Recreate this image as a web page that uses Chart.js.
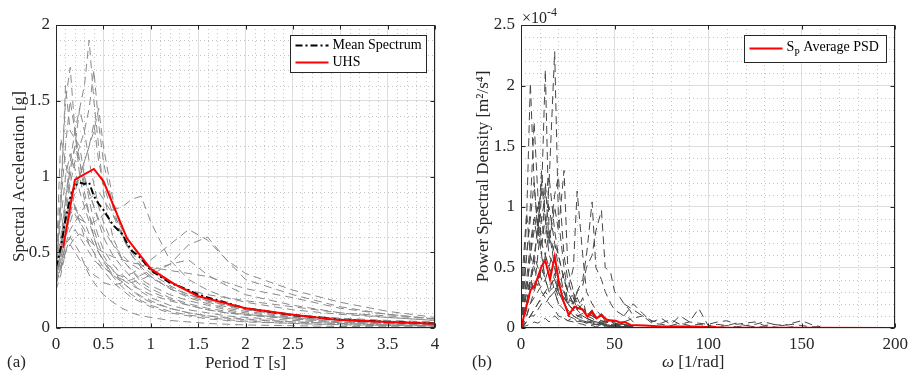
<!DOCTYPE html>
<html>
<head>
<meta charset="utf-8">
<script src="https://cdn.jsdelivr.net/npm/chart.js@4.4.0/dist/chart.umd.min.js"></script>
<style>
  body { margin: 0; background: #fff; }
  #wrap { position: relative; width: 914px; height: 378px; font-family: "Liberation Serif", "Times New Roman", serif; color: #262626; }
  .panel { position: absolute; top: 0; width: 457px; height: 378px; }
  .lbl { position: absolute; font-size: 17px; white-space: nowrap; line-height: 20px; }
  .lbl sup { font-size: 12px; vertical-align: 7px; line-height: 0; }
</style>
</head>
<body>
<div id="wrap">
  <div class="panel" style="left:0"><canvas id="saChart"></canvas></div>
  <div class="panel" style="left:457px"><canvas id="psdChart"></canvas></div>
  <div class="lbl" style="left:7px; top:352px">(a)</div>
  <div class="lbl" style="left:472px; top:352px">(b)</div>
  <div class="lbl" style="left:662px; top:352px"><i>ω</i> [1/rad]</div>
  <div class="lbl" style="left:522px; top:8px; font-size:16px">×10<sup>-4</sup></div>
</div>
<script>
// ---- panel (a): response spectra ----
const periods = [0, 0.05, 0.1, 0.15, 0.2, 0.25, 0.3, 0.35, 0.4, 0.45, 0.5, 0.6, 0.7, 0.8, 0.9, 1.0, 1.2, 1.4, 1.6, 1.8, 2.0, 2.5, 3.0, 3.5, 4.0];

// spectral acceleration of each record [g], one row per record, same periods
const recordSa = [
  [0.42, 0.6, 0.85, 1.1, 1.3, 1.45, 1.6, 1.9, 1.5, 1.2, 0.9, 0.6, 0.45, 0.38, 0.3, 0.26, 0.2, 0.16, 0.13, 0.11, 0.09, 0.06, 0.04, 0.03, 0.02],
  [0.4, 0.9, 1.5, 1.72, 1.3, 1.1, 0.9, 0.75, 0.6, 0.5, 0.45, 0.35, 0.3, 0.25, 0.2, 0.17, 0.13, 0.1, 0.08, 0.07, 0.06, 0.04, 0.03, 0.02, 0.015],
  [0.35, 0.8, 1.6, 1.3, 1.25, 1.2, 1.0, 0.85, 0.7, 0.6, 0.52, 0.42, 0.35, 0.3, 0.24, 0.2, 0.15, 0.12, 0.1, 0.08, 0.07, 0.05, 0.035, 0.025, 0.02],
  [0.3, 0.5, 0.8, 1.0, 1.2, 1.45, 1.3, 1.1, 0.95, 0.8, 0.7, 0.55, 0.45, 0.38, 0.32, 0.28, 0.22, 0.18, 0.15, 0.12, 0.1, 0.07, 0.05, 0.04, 0.03],
  [0.38, 0.5, 0.7, 0.85, 0.95, 1.0, 1.1, 1.2, 1.35, 1.1, 0.95, 0.75, 0.6, 0.5, 0.42, 0.36, 0.28, 0.22, 0.18, 0.15, 0.12, 0.08, 0.055, 0.04, 0.03],
  [0.4, 1.25, 1.1, 0.9, 0.8, 0.7, 0.6, 0.55, 0.5, 0.42, 0.38, 0.3, 0.25, 0.2, 0.17, 0.14, 0.1, 0.08, 0.06, 0.05, 0.04, 0.03, 0.02, 0.015, 0.01],
  [0.3, 0.55, 0.85, 1.05, 1.2, 1.1, 0.95, 0.9, 0.8, 0.7, 0.6, 0.48, 0.4, 0.33, 0.28, 0.24, 0.19, 0.15, 0.12, 0.1, 0.085, 0.06, 0.04, 0.03, 0.025],
  [0.28, 0.4, 0.6, 0.7, 0.8, 0.75, 0.7, 0.62, 0.55, 0.5, 0.45, 0.38, 0.32, 0.28, 0.25, 0.22, 0.18, 0.15, 0.12, 0.1, 0.09, 0.065, 0.05, 0.04, 0.03],
  [0.3, 0.45, 0.65, 0.75, 0.8, 0.72, 0.7, 0.68, 0.7, 0.72, 0.75, 0.78, 0.8, 0.85, 0.87, 0.7, 0.45, 0.32, 0.25, 0.2, 0.17, 0.12, 0.09, 0.07, 0.05],
  [0.32, 0.4, 0.55, 0.6, 0.65, 0.6, 0.55, 0.5, 0.45, 0.42, 0.4, 0.36, 0.34, 0.36, 0.4, 0.45, 0.55, 0.65, 0.58, 0.45, 0.36, 0.25, 0.17, 0.11, 0.07],
  [0.35, 0.5, 0.7, 0.8, 0.75, 0.7, 0.65, 0.55, 0.5, 0.45, 0.4, 0.35, 0.32, 0.3, 0.32, 0.35, 0.42, 0.55, 0.6, 0.45, 0.32, 0.22, 0.14, 0.09, 0.06],
  [0.25, 0.35, 0.5, 0.6, 0.55, 0.5, 0.42, 0.35, 0.3, 0.26, 0.22, 0.17, 0.13, 0.1, 0.08, 0.07, 0.05, 0.04, 0.03, 0.025, 0.02, 0.015, 0.01, 0.008, 0.006],
  [0.35, 0.5, 0.7, 0.85, 0.95, 0.98, 1.0, 0.9, 0.8, 0.72, 0.65, 0.55, 0.48, 0.42, 0.38, 0.33, 0.27, 0.22, 0.18, 0.15, 0.13, 0.09, 0.065, 0.05, 0.04],
  [0.45, 0.7, 1.0, 1.15, 1.05, 0.9, 0.8, 0.7, 0.6, 0.5, 0.44, 0.34, 0.27, 0.22, 0.18, 0.15, 0.11, 0.085, 0.07, 0.055, 0.045, 0.03, 0.022, 0.017, 0.013],
  [0.3, 0.4, 0.55, 0.65, 0.7, 0.75, 0.8, 0.85, 0.88, 0.9, 0.85, 0.75, 0.65, 0.55, 0.45, 0.38, 0.3, 0.25, 0.22, 0.2, 0.18, 0.14, 0.1, 0.08, 0.06],
  [0.4, 0.8, 1.2, 1.5, 1.3, 1.0, 0.85, 0.75, 0.65, 0.55, 0.48, 0.38, 0.3, 0.25, 0.21, 0.18, 0.13, 0.1, 0.08, 0.065, 0.055, 0.04, 0.03, 0.02, 0.015],
  [0.38, 0.55, 0.75, 0.95, 1.1, 1.2, 1.3, 1.45, 1.7, 1.35, 1.1, 0.8, 0.6, 0.48, 0.4, 0.34, 0.26, 0.2, 0.16, 0.13, 0.11, 0.075, 0.055, 0.04, 0.03],
  [0.33, 0.45, 0.6, 0.75, 0.9, 1.0, 1.1, 1.2, 1.3, 1.45, 1.2, 0.85, 0.62, 0.48, 0.4, 0.34, 0.26, 0.21, 0.17, 0.14, 0.12, 0.08, 0.06, 0.045, 0.035],
  [0.3, 0.4, 0.5, 0.55, 0.6, 0.62, 0.6, 0.58, 0.55, 0.52, 0.5, 0.47, 0.45, 0.43, 0.42, 0.4, 0.38, 0.36, 0.34, 0.3, 0.26, 0.2, 0.13, 0.09, 0.06],
  [0.3, 0.38, 0.5, 0.55, 0.5, 0.45, 0.42, 0.38, 0.35, 0.33, 0.3, 0.28, 0.3, 0.32, 0.35, 0.38, 0.42, 0.45, 0.35, 0.28, 0.22, 0.15, 0.1, 0.07, 0.05]
];

const meanT = [0, 0.05, 0.1, 0.15, 0.2, 0.25, 0.3, 0.35, 0.4, 0.45, 0.5, 0.6, 0.65, 0.7, 0.75, 0.8, 0.9, 1.0, 1.2, 1.4, 1.5, 2.0, 2.5, 3.0, 3.5, 4.0];
const meanSa = [0.4, 0.53, 0.72, 0.86, 0.94, 0.96, 0.95, 0.96, 0.87, 0.82, 0.78, 0.68, 0.65, 0.62, 0.56, 0.51, 0.46, 0.38, 0.3, 0.25, 0.22, 0.13, 0.085, 0.055, 0.04, 0.03];

const uhsT = [0.075, 0.2, 0.4, 0.5, 0.75, 1.0, 1.25, 1.5, 2.0, 2.5, 3.0, 3.5, 4.0];
const uhsSa = [0.53, 0.98, 1.05, 0.97, 0.59, 0.39, 0.29, 0.21, 0.13, 0.088, 0.052, 0.04, 0.028];

// ---- panel (b): power spectral density, values in 1e-4 m^2/s^4 ----
const omega = [0, 1, 3, 5, 7, 9, 11, 13, 15, 18, 20, 23, 25, 28, 30, 33, 35, 38, 40, 43, 45, 48, 50, 53, 55, 58, 60];
const recordPsd = [
  [0, 0.05, 0.2, 0.4, 0.3, 0.6, 0.9, 0.7, 1.2, 2.28, 0.9, 0.5, 0.3, 0.2, 0.25, 0.15, 0.1, 0.12, 0.08, 0.06, 0.05, 0.04, 0.03, 0.03, 0.02, 0.02, 0.01],
  [0, 0.1, 0.3, 0.6, 0.9, 0.7, 1.1, 2.13, 0.8, 0.6, 0.4, 0.3, 0.2, 0.15, 0.1, 0.12, 0.08, 0.06, 0.05, 0.04, 0.03, 0.03, 0.02, 0.02, 0.01, 0.01, 0.01],
  [0, 0.3, 0.9, 2.02, 1.2, 0.8, 0.6, 0.4, 0.5, 0.3, 0.2, 0.15, 0.1, 0.08, 0.06, 0.05, 0.04, 0.03, 0.03, 0.02, 0.02, 0.01, 0.01, 0.01, 0.01, 0.01, 0],
  [0, 0.2, 0.6, 1.0, 1.7, 1.1, 0.7, 0.9, 0.6, 0.5, 0.3, 0.2, 0.15, 0.1, 0.08, 0.06, 0.05, 0.04, 0.03, 0.03, 0.02, 0.02, 0.01, 0.01, 0.01, 0, 0],
  [0, 0.05, 0.2, 0.4, 0.6, 0.8, 1.2, 0.9, 0.7, 1.0, 0.8, 1.3, 0.5, 0.3, 0.2, 0.15, 0.1, 0.08, 0.06, 0.05, 0.04, 0.03, 0.02, 0.02, 0.01, 0.01, 0.01],
  [0, 0.02, 0.1, 0.2, 0.3, 0.4, 0.5, 0.6, 0.5, 0.7, 0.6, 0.4, 0.3, 0.5, 1.13, 0.6, 0.3, 0.2, 0.15, 0.1, 0.08, 0.06, 0.05, 0.04, 0.03, 0.02, 0.02],
  [0, 0.02, 0.05, 0.1, 0.15, 0.2, 0.25, 0.3, 0.35, 0.4, 0.3, 0.25, 0.2, 0.2, 0.3, 0.4, 0.6, 1.04, 0.5, 0.4, 0.3, 0.2, 0.15, 0.12, 0.1, 0.08, 0.05],
  [0, 0.01, 0.05, 0.1, 0.1, 0.15, 0.2, 0.2, 0.25, 0.3, 0.35, 0.3, 0.25, 0.2, 0.3, 0.35, 0.5, 0.6, 0.8, 0.97, 0.5, 0.45, 0.3, 0.25, 0.2, 0.15, 0.1],
  [0, 0.1, 0.4, 0.7, 0.9, 1.0, 0.9, 1.1, 1.25, 0.8, 0.6, 0.4, 0.3, 0.2, 0.15, 0.1, 0.08, 0.06, 0.05, 0.04, 0.03, 0.02, 0.02, 0.01, 0.01, 0.01, 0],
  [0, 0.1, 0.3, 0.6, 0.8, 1.0, 0.7, 0.6, 0.5, 0.4, 0.3, 0.2, 0.15, 0.1, 0.08, 0.06, 0.05, 0.04, 0.03, 0.02, 0.02, 0.01, 0.01, 0.01, 0, 0, 0],
  [0, 0.05, 0.15, 0.3, 0.4, 0.35, 0.5, 0.4, 0.3, 0.45, 0.3, 0.25, 0.2, 0.15, 0.1, 0.1, 0.08, 0.06, 0.05, 0.04, 0.03, 0.02, 0.02, 0.01, 0.01, 0.01, 0],
  [0, 0.02, 0.05, 0.1, 0.15, 0.2, 0.25, 0.3, 0.25, 0.3, 0.2, 0.25, 0.2, 0.15, 0.2, 0.15, 0.12, 0.1, 0.08, 0.12, 0.08, 0.06, 0.05, 0.04, 0.03, 0.02, 0.02],
  [0, 0.01, 0.02, 0.03, 0.05, 0.04, 0.06, 0.08, 0.05, 0.1, 0.07, 0.08, 0.06, 0.09, 0.05, 0.07, 0.04, 0.05, 0.03, 0.04, 0.03, 0.02, 0.02, 0.01, 0.01, 0.01, 0],
  [0, 0.5, 0.95, 0.6, 0.5, 0.4, 0.3, 0.25, 0.2, 0.15, 0.1, 0.08, 0.06, 0.05, 0.04, 0.03, 0.02, 0.02, 0.01, 0.01, 0.01, 0, 0, 0, 0, 0, 0],
  [0, 0.3, 0.6, 0.9, 1.2, 0.8, 1.3, 0.9, 1.0, 0.7, 0.5, 0.3, 0.2, 0.15, 0.1, 0.08, 0.06, 0.05, 0.04, 0.03, 0.02, 0.02, 0.01, 0.01, 0.01, 0, 0],
  [0, 0.1, 0.2, 0.4, 0.5, 0.9, 0.6, 1.2, 0.7, 1.1, 1.25, 0.6, 0.4, 0.25, 0.2, 0.15, 0.12, 0.1, 0.08, 0.06, 0.05, 0.04, 0.03, 0.02, 0.02, 0.01, 0.01],
  [0, 0.2, 0.4, 0.3, 0.6, 0.5, 0.4, 0.6, 0.8, 0.5, 0.35, 0.45, 0.2, 0.3, 0.15, 0.25, 0.1, 0.15, 0.08, 0.1, 0.05, 0.06, 0.04, 0.03, 0.03, 0.02, 0.01],
  [0, 0.05, 0.1, 0.2, 0.25, 0.3, 0.35, 0.4, 0.3, 0.35, 0.25, 0.3, 0.2, 0.25, 0.15, 0.2, 0.1, 0.12, 0.08, 0.1, 0.06, 0.05, 0.04, 0.03, 0.02, 0.02, 0.01]
];

// high-frequency tails of a few records
const omegaTail = [55, 60, 65, 70, 75, 80, 85, 90, 95, 100, 105, 110, 115, 120, 125, 130, 135, 140, 145, 150, 155, 160];
const tailPsd = [
  [0.1, 0.2, 0.12, 0.05, 0.08, 0.03, 0.1, 0.05, 0.16, 0.02, 0.03, 0.02, 0.04, 0.02, 0.03, 0.05, 0.03, 0.02, 0.04, 0.06, 0.03, 0.01],
  [0.05, 0.08, 0.1, 0.06, 0.04, 0.07, 0.03, 0.05, 0.04, 0.03, 0.05, 0.06, 0.03, 0.04, 0.05, 0.02, 0.03, 0.02, 0.03, 0.02, 0.01, 0.01],
  [0.2, 0.15, 0.1, 0.04, 0.03, 0.02, 0.04, 0.02, 0.03, 0.02, 0.01, 0.02, 0.01, 0.02, 0.01, 0.01, 0.01, 0, 0.01, 0, 0, 0]
];

const avgOmega = [0, 5, 7.5, 11, 13, 15.5, 18, 20.5, 22.5, 25.5, 28.5, 33, 35.5, 38, 40.5, 43, 46, 50.5, 53, 55.5, 58.5, 66, 75, 91, 108, 150, 200];
const avgPsd = [0, 0.31, 0.355, 0.51, 0.555, 0.4, 0.59, 0.355, 0.23, 0.107, 0.176, 0.15, 0.093, 0.135, 0.08, 0.107, 0.066, 0.06, 0.045, 0.05, 0.025, 0.02, 0.013, 0.012, 0.005, 0.003, 0];

const FONT = '"Liberation Serif", "Times New Roman", serif';
const AXIS = '#262626';

function xy(xs, ys) {
  return xs.map((x, i) => ({ x: x, y: ys[i] }));
}

// minor dotted grid, box with inward ticks, and a boxed legend like MATLAB
const matlabAxes = {
  id: "matlabAxes",
  beforeDatasetsDraw(chart, args, opts) {
    const { ctx, chartArea: a } = chart;
    const sx = chart.scales.x, sy = chart.scales.y;
    ctx.save();
    ctx.strokeStyle = "#c4c4c4";
    ctx.lineWidth = 1;
    ctx.setLineDash([1, 3]);
    const nx = Math.round((sx.max - sx.min) / opts.xMinor);
    for (let i = 1; i < nx; i++) {
      if (i % opts.xPer === 0) continue;
      const px = Math.round(sx.getPixelForValue(sx.min + i * opts.xMinor)) + 0.5;
      ctx.beginPath(); ctx.moveTo(px, a.top); ctx.lineTo(px, a.bottom); ctx.stroke();
    }
    const ny = Math.round((sy.max - sy.min) / opts.yMinor);
    for (let i = 1; i < ny; i++) {
      if (i % opts.yPer === 0) continue;
      const py = Math.round(sy.getPixelForValue(sy.min + i * opts.yMinor)) + 0.5;
      ctx.beginPath(); ctx.moveTo(a.left, py); ctx.lineTo(a.right, py); ctx.stroke();
    }
    ctx.restore();
  },
  afterDraw(chart, args, opts) {
    const { ctx, chartArea: a } = chart;
    const sx = chart.scales.x, sy = chart.scales.y;
    ctx.save();
    ctx.strokeStyle = AXIS;
    ctx.lineWidth = 1;
    ctx.setLineDash([]);
    const L = Math.round(a.left) + 0.5, R = Math.round(a.right) - 0.5;
    const T = Math.round(a.top) + 0.5, B = Math.round(a.bottom) - 0.5;
    ctx.strokeRect(L, T, R - L, B - T);
    ctx.beginPath();
    sx.ticks.forEach(t => {
      const px = Math.round(sx.getPixelForValue(t.value)) + 0.5;
      ctx.moveTo(px, B); ctx.lineTo(px, B - 4);
      ctx.moveTo(px, T); ctx.lineTo(px, T + 4);
    });
    sy.ticks.forEach(t => {
      const py = Math.round(sy.getPixelForValue(t.value)) + 0.5;
      ctx.moveTo(L, py); ctx.lineTo(L + 4, py);
      ctx.moveTo(R, py); ctx.lineTo(R - 4, py);
    });
    ctx.stroke();

    // legend
    const lg = opts.legend;
    const bx = Math.round(a.right - lg.right - lg.width) + 0.5;
    const by = Math.round(a.top + lg.top) + 0.5;
    ctx.fillStyle = "#fff";
    ctx.fillRect(bx, by, lg.width, lg.height);
    ctx.strokeStyle = AXIS;
    ctx.strokeRect(bx, by, lg.width, lg.height);
    lg.items.forEach((it, i) => {
      const ds = chart.data.datasets[it.dataset];
      const yy = by + lg.first + i * lg.step;
      ctx.strokeStyle = ds.borderColor;
      ctx.lineWidth = ds.borderWidth;
      ctx.setLineDash(ds.borderDash || []);
      ctx.beginPath(); ctx.moveTo(bx + 5, yy); ctx.lineTo(bx + 38, yy); ctx.stroke();
      ctx.fillStyle = "#000";
      ctx.textBaseline = "middle";
      ctx.font = "14px " + FONT;
      let tx = bx + 42;
      if (it.sub) {
        ctx.fillText(it.main, tx, yy - 1);
        tx += ctx.measureText(it.main).width;
        ctx.font = "10px " + FONT;
        ctx.fillText(it.sub, tx, yy + 5);
        tx += ctx.measureText(it.sub).width;
        ctx.font = "14px " + FONT;
        ctx.fillText(it.rest, tx, yy - 1);
      } else {
        ctx.fillText(it.main, tx, yy);
      }
    });
    ctx.restore();
  }
};

// MATLAB style tick text: 0, 0.5, 1, 1.5 ...
function tickText(v) {
  return String(Number(v.toFixed(3)));
}

function baseScales(xMax, xStep, yMax, yStep, yTitle, yWidth, titlePad) {
  const tickFont = { family: FONT, size: 17 };
  return {
    x: {
      type: "linear", min: 0, max: xMax,
      afterFit: s => { s.height = 50; },
      grid: { color: "#dedede", lineWidth: 1, drawTicks: false },
      border: { display: false },
      ticks: { stepSize: xStep, color: AXIS, font: tickFont, padding: 6, maxRotation: 0, callback: tickText }
    },
    y: {
      min: 0, max: yMax,
      afterFit: s => { s.width = yWidth; },
      grid: { color: "#dedede", lineWidth: 1, drawTicks: false },
      border: { display: false },
      ticks: { stepSize: yStep, color: AXIS, font: tickFont, padding: 6, callback: tickText },
      title: { display: true, text: yTitle, color: AXIS, font: { family: FONT, size: 17 }, padding: { top: titlePad, bottom: 0 } }
    }
  };
}

// panel (a)
const saSets = [
  { label: "UHS", data: xy(uhsT, uhsSa), borderColor: "#ff0000", borderWidth: 2, order: 0 },
  { label: "Mean Spectrum", data: xy(meanT, meanSa), borderColor: "#000000", borderWidth: 2, borderDash: [7, 3, 2, 3], order: 1 }
];
recordSa.forEach((row, i) => {
  saSets.push({ label: "rec" + (i + 1), data: xy(periods, row), borderColor: "#8a8a8a", borderWidth: 1, borderDash: [8, 5], order: 2 });
});

const saScales = baseScales(4, 0.5, 2, 0.5, "Spectral Acceleration [g]", 56, 9);
saScales.x.title = { display: true, text: "Period T [s]", color: AXIS, font: { family: FONT, size: 17 }, padding: { top: 0, bottom: 4 } };

new Chart(document.getElementById("saChart"), {
  type: "line",
  data: { datasets: saSets },
  options: {
    responsive: true, maintainAspectRatio: false, animation: false,
    elements: { point: { radius: 0 }, line: { tension: 0 } },
    layout: { padding: { top: 25, right: 22, left: 0, bottom: 0 } },
    scales: saScales,
    plugins: {
      legend: { display: false }, tooltip: { enabled: false },
      matlabAxes: {
        xMinor: 0.1, xPer: 5, yMinor: 0.1, yPer: 5,
        legend: { right: 9, top: 10, width: 136, height: 37, first: 10, step: 17,
          items: [{ dataset: 1, main: "Mean Spectrum" }, { dataset: 0, main: "UHS" }] }
      }
    }
  },
  plugins: [matlabAxes]
});

// panel (b)
const psdSets = [
  { label: "avg", data: xy(avgOmega, avgPsd), borderColor: "#ff0000", borderWidth: 2, order: 0 }
];
recordPsd.forEach((row, i) => {
  psdSets.push({ label: "psd" + (i + 1), data: xy(omega, row), borderColor: "#474747", borderWidth: 1, borderDash: [8, 5], order: 2 });
});
tailPsd.forEach((row, i) => {
  psdSets.push({ label: "tail" + (i + 1), data: xy(omegaTail, row), borderColor: "#474747", borderWidth: 1, borderDash: [8, 5], order: 2 });
});

const psdScales = baseScales(200, 50, 2.5, 0.5, "Power Spectral Density [m²/s⁴]", 64, 16);

new Chart(document.getElementById("psdChart"), {
  type: "line",
  data: { datasets: psdSets },
  options: {
    responsive: true, maintainAspectRatio: false, animation: false,
    elements: { point: { radius: 0 }, line: { tension: 0 } },
    layout: { padding: { top: 25, right: 14, left: 0, bottom: 0 } },
    scales: psdScales,
    plugins: {
      legend: { display: false }, tooltip: { enabled: false },
      matlabAxes: {
        xMinor: 10, xPer: 5, yMinor: 0.1, yPer: 5,
        legend: { right: 9, top: 10, width: 142, height: 27, first: 13, step: 17,
          items: [{ dataset: 0, main: "S", sub: "P", rest: " Average PSD" }] }
      }
    }
  },
  plugins: [matlabAxes]
});
</script>
</body>
</html>
